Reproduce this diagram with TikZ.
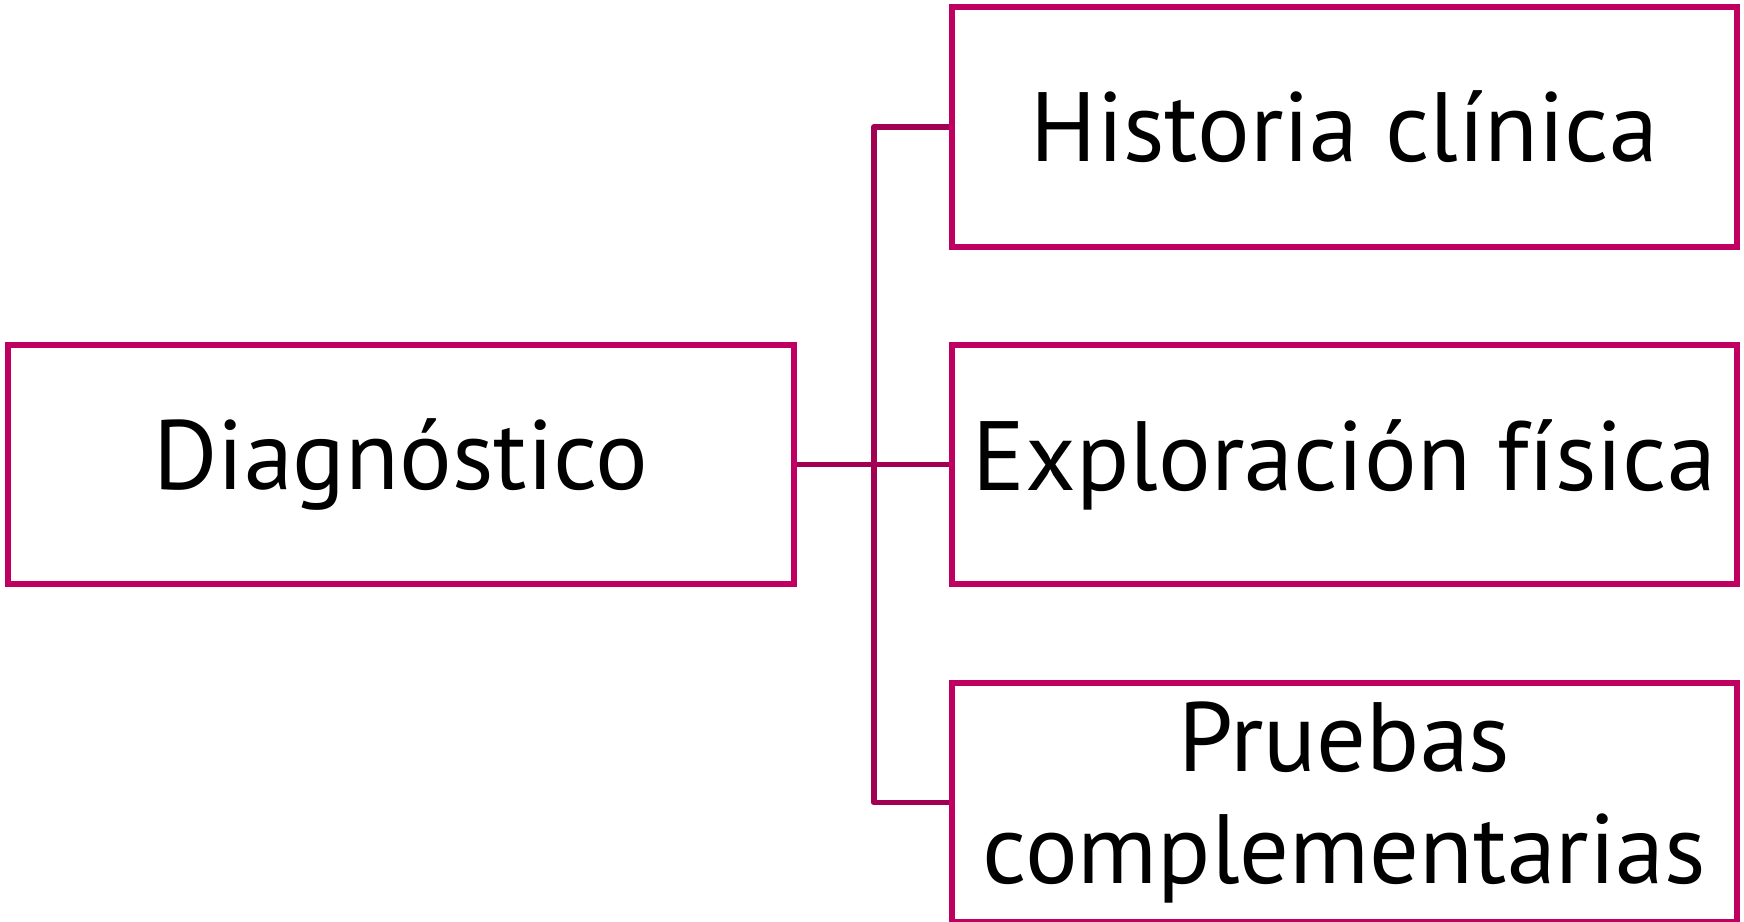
\documentclass[tikz,border=0pt]{standalone}
\usepackage{fontspec}
\setmainfont{PT Sans}
\usetikzlibrary{positioning}
\definecolor{boxpink}{RGB}{192,0,96}
\definecolor{linkpink}{RGB}{162,0,82}

\begin{document}
\begin{tikzpicture}[
    x=0.01cm, y=-0.01cm,
    item/.style={rectangle, draw=boxpink, line width=1.7pt, minimum width=7.85cm, minimum height=2.39cm, align=center, inner sep=0pt, font=\fontsize{28}{32}\selectfont},
    link/.style={draw=linkpink, line width=1.7pt, line join=round}
]
    \useasboundingbox (0,0) rectangle (1744,922);

    % Root
    \node[item] (diag) at (401,464.5) {Diagnóstico};

    % Branches
    \node[item] (hist) at (1344.5,127) {Historia clínica};
    \node[item] (expl) at (1344.5,464.5) {Exploración física};
    \node[item] (prueb) at (1344.5,802.5) {Pruebas\\complementarias};

    % Connectors
    \coordinate (hub) at (874,464.5);
    \draw[link] (diag.east) -- (hub);
    \draw[link] (hub) |- (hist.west);
    \draw[link] (hub) -- (expl.west);
    \draw[link] (hub) |- (prueb.west);
\end{tikzpicture}
\end{document}
